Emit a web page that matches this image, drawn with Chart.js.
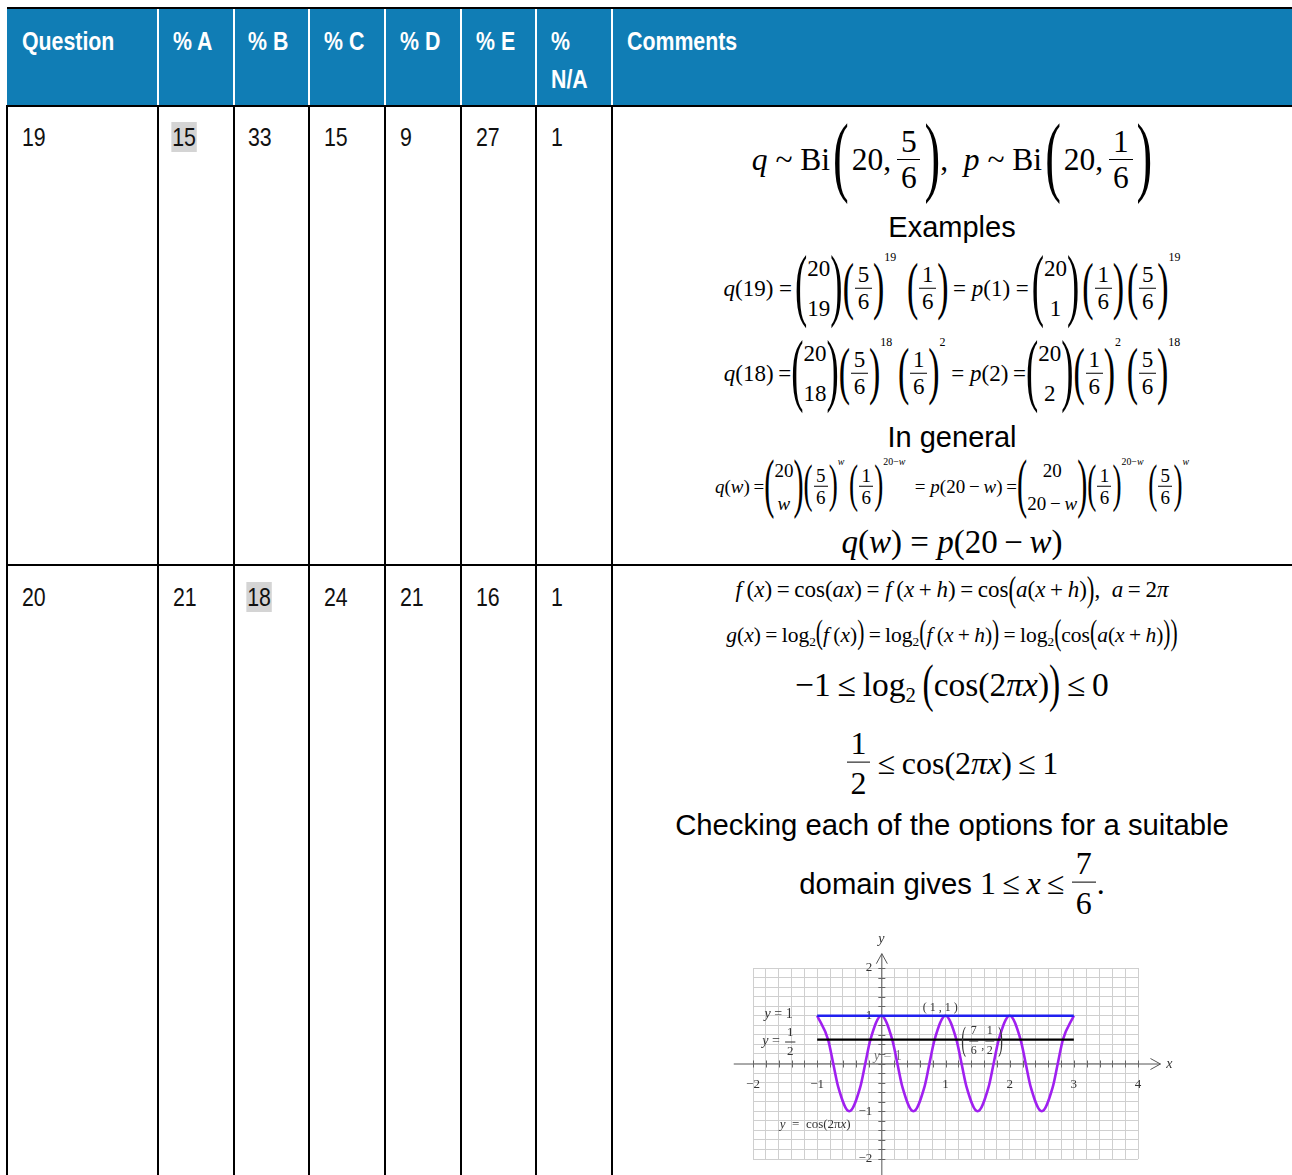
<!DOCTYPE html>
<html><head><meta charset="utf-8">
<script src="https://cdn.jsdelivr.net/npm/chart.js@4.4.1/dist/chart.umd.min.js"></script>
<style>
html,body{margin:0;padding:0;background:#fff;width:1292px;height:1175px;overflow:hidden;}
#page{position:relative;width:1292px;height:1175px;overflow:hidden;}
.hdr{position:absolute;left:7px;top:9px;width:1300px;height:96px;background:#107db5;}
.bk{position:absolute;background:#000;}
.wh{position:absolute;background:#fff;}
.ht{position:absolute;color:#fff;font-family:"Liberation Sans",Arial,sans-serif;font-weight:bold;font-size:26px;line-height:38px;white-space:nowrap;transform:scaleX(0.82);transform-origin:0 50%;}
.bt{position:absolute;color:#111;font-family:"Liberation Sans",Arial,sans-serif;font-size:26px;line-height:37px;white-space:nowrap;transform:scaleX(0.82);transform-origin:0 50%;}
.hl{background:#d4d4d4;padding:0 1px;margin-left:-2px;}
.ln{position:absolute;left:612px;width:680px;display:flex;justify-content:center;align-items:center;transform:translateY(-50%);font-family:"Liberation Serif","Times New Roman",serif;white-space:nowrap;color:#000;line-height:1.15;}
.sans{font-family:"Liberation Sans",Arial,sans-serif;}
.fr{display:inline-flex;flex-direction:column;align-items:center;margin:0 1px;}
.fr .nu{border-bottom:1.3px solid #000;padding:0 0.12em;line-height:1.08;}
.fr .de{line-height:1.08;padding-top:1px;}
.big .fr .nu,.big .fr .de{line-height:1.2;}
.bn{display:inline-flex;flex-direction:column;align-items:center;line-height:1.75;}
.p{display:inline-flex;align-items:center;justify-content:center;}
.p span{display:block;line-height:1;transform-origin:50% 58%;}
.su{align-self:flex-start;font-size:0.52em;margin-top:2px;}
.g3{display:inline-block;width:3px;}
.g5{display:inline-block;width:5px;}
sub{font-size:0.62em;vertical-align:-0.3em;line-height:0;}
#chartBox{position:absolute;left:730px;top:925px;width:450px;height:250px;}
</style>
</head>
<body>
<div id="page">
  <div class="hdr"></div>
  <div id="grid"></div>
  <div id="cells"></div>
  <div id="math"></div>
  <div id="chartBox"><canvas id="c" width="450" height="250"></canvas></div>
</div>
<script>
// ---------------- table data ----------------
const headers = ['Question', '% A', '% B', '% C', '% D', '% E', '%<br>N/A', 'Comments'];
const questions = ['19', '20'];
const pctA = [15, 21];
const pctB = [33, 18];
const pctC = [15, 24];
const pctD = [9, 21];
const pctE = [27, 16];
const pctNA = [1, 1];
const correct = ['A', 'B'];

// ---------------- graph data ----------------
const curveX = [-1,-0.83,-0.75,-0.67,-0.5,-0.33,-0.25,-0.17,0,0.17,0.25,0.33,0.5,0.67,0.75,0.83,1,1.17,1.25,1.33,1.5,1.67,1.75,1.83,2,2.17,2.25,2.33,2.5,2.67,2.75,2.83,3];
const curveY = [1,0.5,0,-0.5,-1,-0.5,0,0.5,1,0.5,0,-0.5,-1,-0.5,0,0.5,1,0.5,0,-0.5,-1,-0.5,0,0.5,1,0.5,0,-0.5,-1,-0.5,0,0.5,1];
const lineX = [-1, 3];
const blueY = [1, 1];
const blackY = [0.5, 0.5];
const xTickLabels = [-2, -1, 1, 2, 3, 4];
const yTickLabels = [2, 1, -1, -2];

// ---------------- table layout ----------------
const colX = [6, 157, 233, 308, 384, 460, 535, 611];
let gh = '';
gh += `<div class="bk" style="left:7px;top:7px;width:1300px;height:2px"></div>`;
gh += `<div class="bk" style="left:6px;top:105px;width:1300px;height:2px"></div>`;
gh += `<div class="bk" style="left:6px;top:564px;width:1300px;height:2px"></div>`;
gh += `<div class="bk" style="left:6px;top:105px;width:2px;height:1080px"></div>`;
colX.slice(1).forEach(x => {
  gh += `<div class="wh" style="left:${x}px;top:9px;width:2px;height:96px"></div>`;
  gh += `<div class="bk" style="left:${x}px;top:105px;width:2px;height:1080px"></div>`;
});
document.getElementById('grid').innerHTML = gh;

let ch = '';
const textX = [22, 173, 248, 324, 400, 476, 551, 627];
headers.forEach((h, i) => { ch += `<div class="ht" style="left:${textX[i]}px;top:22px">${h}</div>`; });
const rowsTop = [119, 579];
const letters = ['A','B','C','D','E'];
questions.forEach((q, r) => {
  const vals = [pctA[r], pctB[r], pctC[r], pctD[r], pctE[r], pctNA[r]];
  ch += `<div class="bt" style="left:${textX[0]}px;top:${rowsTop[r]}px">${q}</div>`;
  vals.forEach((v, k) => {
    const hl = letters[k] === correct[r];
    ch += `<div class="bt" style="left:${textX[k+1]}px;top:${rowsTop[r]}px">${hl ? `<span class="hl">${v}</span>` : v}</div>`;
  });
});
document.getElementById('cells').innerHTML = ch;

// ---------------- math helpers ----------------
const P = (h, c) => `<span class="p" data-h="${h}"><span>${c}</span></span>`;
const L = h => P(h, '(');
const R = h => P(h, ')');
const F = (n, d) => `<span class="fr"><span class="nu">${n}</span><span class="de">${d}</span></span>`;
const B = (a, b) => `<span class="bn"><span>${a}</span><span>${b}</span></span>`;
const S = t => `<span class="su">${t}</span>`;
const T = t => `<span>${t}</span>`;
const G3 = '<span class="g3"></span>', G5 = '<span class="g5"></span>';
const line = (top, fs, html, extra='', cls='') => `<div class="ln ${cls}" style="top:${top}px;font-size:${fs}px;${extra}">${html}</div>`;

let m = '';
// Question 19
m += line(160, 31.5,
  T('<i>q</i>&nbsp;~&nbsp;Bi') + G3 + L(78) + G3 + T('20,') + G5 + F('5','6') + G3 + R(78) + T(',&nbsp;&nbsp;<i>p</i>&nbsp;~&nbsp;Bi') + G3 + L(78) + G3 + T('20,') + G5 + F('1','6') + G3 + R(78));
m += line(228, 29, T('Examples'), 'font-family:Liberation Sans,Arial,sans-serif;');
m += line(289, 23,
  T('<i>q</i>(19)&nbsp;=') + G3 + L(70) + B('20','19') + R(70) + L(56) + F('5','6') + R(56) + S('19') + T('&nbsp;') + G5 +
  L(56) + F('1','6') + R(56) + T('&thinsp;=&nbsp;<i>p</i>(1)&nbsp;=') + G3 + L(70) + B('20','1') + R(70) + G3 + L(56) + F('1','6') + R(56) + G3 + L(56) + F('5','6') + R(56) + S('19'));
m += line(374, 23,
  T('<i>q</i>(18)&thinsp;=') + L(70) + B('20','18') + R(70) + L(56) + F('5','6') + R(56) + S('18') + T('&nbsp;') +
  L(56) + F('1','6') + R(56) + S('2') + T('&nbsp;=&nbsp;<i>p</i>(2)&thinsp;=') + L(70) + B('20','2') + R(70) + L(56) + F('1','6') + R(56) + S('2') + T('&nbsp;') + L(56) + F('5','6') + R(56) + S('18'));
m += line(438, 29, T('In general'), 'font-family:Liberation Sans,Arial,sans-serif;');
m += line(487, 19,
  T('<i>q</i>(<i>w</i>)&thinsp;=') + L(57) + B('20','<i>w</i>') + R(57) + L(45) + F('5','6') + R(45) + S('<i>w</i>') + T('&nbsp;') +
  L(45) + F('1','6') + R(45) + S('20&minus;<i>w</i>') + T('&nbsp;&nbsp;=&nbsp;<i>p</i>(20&thinsp;&minus;&thinsp;<i>w</i>)&thinsp;=') +
  L(57) + B('20','20&thinsp;&minus;&thinsp;<i>w</i>') + R(57) + L(45) + F('1','6') + R(45) + S('20&minus;<i>w</i>') + T('&nbsp;') + L(45) + F('5','6') + R(45) + S('<i>w</i>'));
m += line(543, 33, T('<i>q</i>(<i>w</i>)&nbsp;=&nbsp;<i>p</i>(20&thinsp;&minus;&thinsp;<i>w</i>)'));
// Question 20
m += line(590, 23,
  T('<i>f</i>&thinsp;(<i>x</i>)&thinsp;=&thinsp;cos(<i>ax</i>)&thinsp;=&nbsp;<i>f</i>&thinsp;(<i>x</i>&thinsp;+&thinsp;<i>h</i>)&thinsp;=&thinsp;cos') + L(31) + T('<i>a</i>(<i>x</i>&thinsp;+&thinsp;<i>h</i>)') + R(31) + T(',&nbsp;&nbsp;<i>a</i>&thinsp;=&thinsp;2<i>π</i>'));
m += line(635, 21.5,
  T('<i>g</i>(<i>x</i>)&thinsp;=&thinsp;log<sub>2</sub>') + L(29) + T('<i>f</i>&thinsp;(<i>x</i>)') + R(29) + T('&thinsp;=&thinsp;log<sub>2</sub>') + L(29) + T('<i>f</i>&thinsp;(<i>x</i>&thinsp;+&thinsp;<i>h</i>)') + R(29) +
  T('&thinsp;=&thinsp;log<sub>2</sub>') + L(32) + T('cos') + L(29) + T('<i>a</i>(<i>x</i>&thinsp;+&thinsp;<i>h</i>)') + R(29) + R(32));
m += line(685, 33.5,
  T('&minus;1&thinsp;≤&thinsp;log<sub>2</sub>&thinsp;') + L(46) + T('cos(2<i>πx</i>)') + R(46) + T('&thinsp;≤&thinsp;0'));
m += line(763, 32, F('1','2') + T('&thinsp;≤&thinsp;cos(2<i>πx</i>)&thinsp;≤&thinsp;1'), '', 'big');
m += line(825, 29.3, T('Checking each of the options for a suitable'), 'font-family:Liberation Sans,Arial,sans-serif;');
m += line(883, 32, `<span class="sans" style="font-size:29.3px">domain gives&nbsp;</span>` + T('1&thinsp;≤&thinsp;<i>x</i>&thinsp;≤&thinsp;') + F('7','6') + T('.'), '', 'big');
document.getElementById('math').innerHTML = m;

document.querySelectorAll('.p').forEach(el => {
  const h = +el.dataset.h;
  const fs = parseFloat(getComputedStyle(el).fontSize);
  const ratio = h / (0.87 * fs);
  const kx = Math.min(1.6, Math.max(1, ratio / 1.9));
  const inner = el.firstChild;
  inner.style.fontSize = (fs * kx).toFixed(2) + 'px';
  el.style.height = h + 'px';
  inner.style.transform = `scaleY(${(h / (0.87 * fs * kx)).toFixed(3)})`;
});

// ---------------- graph ----------------
const pts = (xs, ys) => xs.map((x, i) => ({x, y: ys[i]}));
function runs(ctx, parts, cx, cy, size) {
  let w = 0;
  parts.forEach(p => { ctx.font = (p[1] ? 'italic ' : '') + size + 'px "Liberation Serif", serif'; w += ctx.measureText(p[0]).width; });
  let x = cx - w / 2;
  ctx.textAlign = 'left';
  parts.forEach(p => { ctx.font = (p[1] ? 'italic ' : '') + size + 'px "Liberation Serif", serif'; ctx.fillText(p[0], x, cy); x += ctx.measureText(p[0]).width; });
  ctx.textAlign = 'center';
}
const axesPlugin = {
  id: 'axesPlugin',
  beforeDatasetsDraw(chart) {
    const {ctx, scales: {x, y}} = chart;
    const x0 = x.getPixelForValue(0), y0 = y.getPixelForValue(0);
    ctx.save();
    ctx.strokeStyle = '#555';
    ctx.lineWidth = 1;
    ctx.beginPath();
    ctx.moveTo(x.getPixelForValue(-2.3), y0 + 0.5);
    ctx.lineTo(x.getPixelForValue(4.35), y0 + 0.5);
    ctx.moveTo(x0 + 0.5, y.getPixelForValue(-2.4));
    ctx.lineTo(x0 + 0.5, y.getPixelForValue(2.3));
    ctx.stroke();
    const ax = x.getPixelForValue(4.35), ay = y.getPixelForValue(2.3);
    ctx.beginPath();
    ctx.moveTo(ax - 10, y0 - 5); ctx.lineTo(ax, y0 + 0.5); ctx.lineTo(ax - 10, y0 + 6);
    ctx.moveTo(x0 - 5, ay + 10); ctx.lineTo(x0 + 0.5, ay); ctx.lineTo(x0 + 6, ay + 10);
    ctx.stroke();
    ctx.strokeStyle = '#666';
    ctx.beginPath();
    x.ticks.forEach(t => { const px = Math.round(x.getPixelForValue(t.value)) + 0.5; ctx.moveTo(px, y0 - 3); ctx.lineTo(px, y0 + 4); });
    y.ticks.forEach(t => { const py = Math.round(y.getPixelForValue(t.value)) + 0.5; ctx.moveTo(x0 - 3, py); ctx.lineTo(x0 + 4, py); });
    ctx.stroke();
    ctx.fillStyle = '#333';
    ctx.font = '13px "Liberation Serif", serif';
    ctx.textAlign = 'center'; ctx.textBaseline = 'middle';
    xTickLabels.forEach(v => ctx.fillText(String(v).replace('-', '\u2212'), x.getPixelForValue(v), y0 + 21));
    ctx.textAlign = 'right';
    yTickLabels.forEach(v => ctx.fillText(String(v).replace('-', '\u2212'), x0 - 9, y.getPixelForValue(v)));
    ctx.fillStyle = '#777';
    ctx.textAlign = 'center';
    runs(ctx, [['y', true], [' = 1', false]], x.getPixelForValue(0.1), y.getPixelForValue(0.15), 14);
    ctx.restore();
  },
  afterDatasetsDraw(chart) {
    const {ctx, scales: {x, y}} = chart;
    const X = v => x.getPixelForValue(v), Y = v => y.getPixelForValue(v);
    const x0 = X(0), y0 = Y(0);
    ctx.save();
    ctx.fillStyle = '#333';
    ctx.textAlign = 'center'; ctx.textBaseline = 'middle';
    ctx.font = 'italic 14px "Liberation Serif", serif';
    ctx.fillText('y', x0, Y(2.3) - 14);
    ctx.fillText('x', X(4.35) + 9, y0 + 1);
    runs(ctx, [['y', true], [' = 1', false]], X(-1.6), Y(1.03), 14);
    runs(ctx, [['y', true], [' =', false]], X(-1.72), Y(0.46), 14);
    ctx.font = '13px "Liberation Serif", serif';
    ctx.fillText('1', X(-1.42), Y(0.64));
    ctx.fillText('2', X(-1.42), Y(0.25));
    ctx.strokeStyle = '#333'; ctx.lineWidth = 1;
    ctx.beginPath(); ctx.moveTo(X(-1.5), Y(0.45)); ctx.lineTo(X(-1.34), Y(0.45)); ctx.stroke();
    ctx.font = '12px "Liberation Serif", serif';
    ctx.fillText('( 1 , 1 )', X(0.92), Y(1.16));
    [[1.28, '('], [1.86, ')']].forEach(([v, c]) => {
      ctx.save();
      ctx.translate(X(v), Y(0.46));
      ctx.scale(1, 2.4);
      ctx.font = '14px "Liberation Serif", serif';
      ctx.fillText(c, 0, 0);
      ctx.restore();
    });
    ctx.font = '12px "Liberation Serif", serif';
    ctx.fillText('7', X(1.44), Y(0.68));
    ctx.fillText('6', X(1.44), Y(0.27));
    ctx.fillText(',', X(1.58), Y(0.38));
    ctx.fillText('1', X(1.69), Y(0.68));
    ctx.fillText('2', X(1.69), Y(0.27));
    ctx.beginPath();
    ctx.moveTo(X(1.37), Y(0.47)); ctx.lineTo(X(1.51), Y(0.47));
    ctx.moveTo(X(1.62), Y(0.47)); ctx.lineTo(X(1.76), Y(0.47));
    ctx.stroke();
    runs(ctx, [['y', true], ['  =  cos(2\u03c0', false], ['x', true], [')', false]], X(-1.03), Y(-1.28), 13);
    ctx.restore();
  }
};

new Chart(document.getElementById('c'), {
  type: 'scatter',
  data: {
    datasets: [
      { data: pts(lineX, blackY), showLine: true, borderColor: '#000', borderWidth: 2.2, pointRadius: 0 },
      { data: pts(lineX, blueY), showLine: true, borderColor: '#2020f0', borderWidth: 2.4, pointRadius: 0 },
      { data: pts(curveX, curveY), showLine: true, borderColor: '#a020f0', borderWidth: 2.6, pointRadius: 0, cubicInterpolationMode: 'monotone' }
    ]
  },
  options: {
    responsive: false,
    animation: false,
    events: [],
    devicePixelRatio: 1,
    layout: { padding: { left: 23, right: 42, top: 43, bottom: 16 } },
    plugins: { legend: { display: false }, tooltip: { enabled: false } },
    scales: {
      x: { type: 'linear', min: -2, max: 4, ticks: { display: false, stepSize: 0.2 }, grid: { color: '#cfcfcf', lineWidth: 1, drawTicks: false }, border: { display: false } },
      y: { type: 'linear', min: -2, max: 2, ticks: { display: false, stepSize: 0.2 }, grid: { color: '#cfcfcf', lineWidth: 1, drawTicks: false }, border: { display: false } }
    }
  },
  plugins: [axesPlugin]
});
</script>
</body></html>
